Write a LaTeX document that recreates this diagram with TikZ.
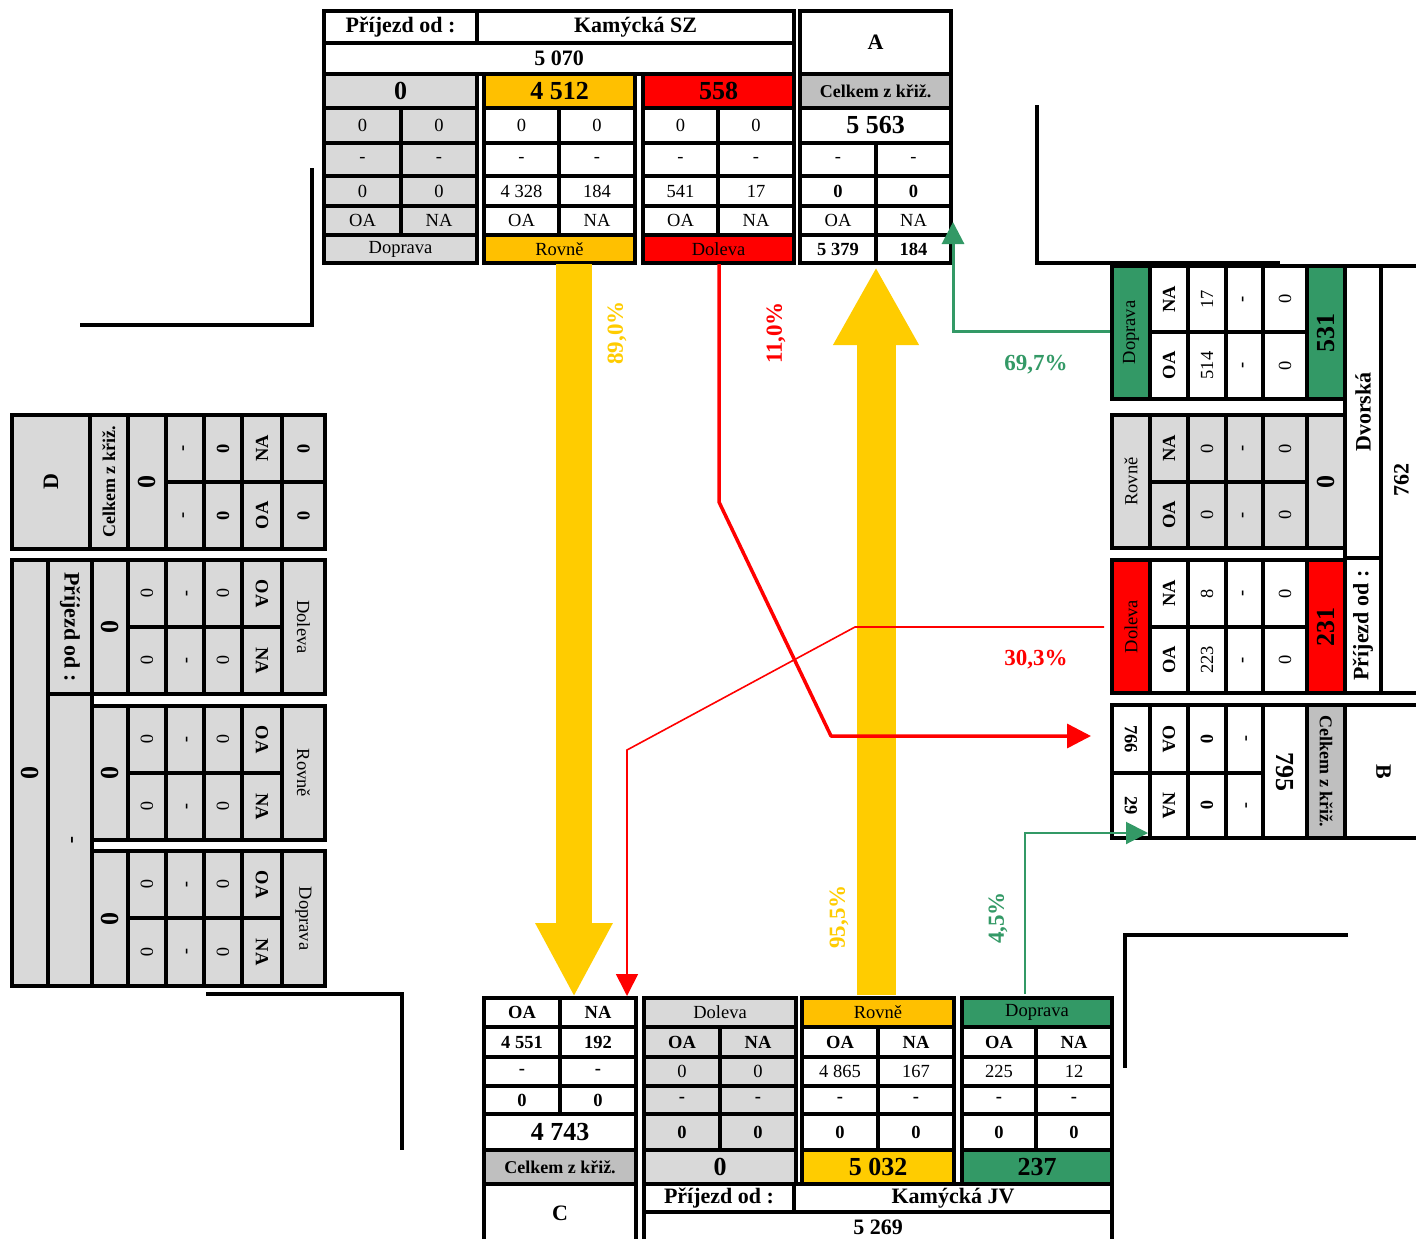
\documentclass[tikz,border=0pt]{standalone}
\usepackage{fontspec}
\setmainfont{Liberation Serif}
\usetikzlibrary{arrows.meta}

\definecolor{lgray}{HTML}{D9D9D9}
\definecolor{mgray}{HTML}{BFBFBF}
\definecolor{orng}{HTML}{FFC000}
\definecolor{ylw}{HTML}{FFCC00}
\definecolor{rd}{HTML}{FF0000}
\definecolor{grn}{HTML}{339966}

\tikzset{
  cellline/.style={draw=black, line width=3.5pt},
  val/.style={font=\fontsize{18.5}{20}\selectfont, inner sep=0pt},
  valb/.style={font=\bfseries\fontsize{18.5}{20}\selectfont, inner sep=0pt},
  big/.style={font=\bfseries\fontsize{26}{28}\selectfont, inner sep=0pt},
  head/.style={font=\bfseries\fontsize{22}{24}\selectfont, inner sep=0pt},
  tot/.style={font=\bfseries\fontsize{18}{20}\selectfont, inner sep=0pt},
  pct/.style={font=\bfseries\fontsize{23}{25}\selectfont, inner sep=0pt},
  corner/.style={line width=4pt, black},
}

% name, x1, y1, x2, y2, fill, text style, text
\newcommand{\cellbox}[8]{%
  \draw[cellline, fill=#6] (#2,#3) rectangle (#4,#5);
  \node[#7] (#1) at ({(#2+#4)/2},{(#3+#5)/2}) {#8};}

\begin{document}
\begin{tikzpicture}[x=1pt, y=-1pt]
\useasboundingbox (0,0) rectangle (1416,1239);

% road corners
\draw[corner] (80,325) -- (312,325) -- (312,168);
\draw[corner] (1037,105) -- (1037,263) -- (1280,263);
\draw[corner] (1348,935) -- (1125,935) -- (1125,1068);
\draw[corner] (206,994) -- (402,994) -- (402,1150);

% ---- Kamycka SZ ----
\cellbox{szP}{324}{11}{477}{43}{white}{head}{Příjezd od :}
\cellbox{szK}{477}{11}{794}{43}{white}{head}{Kamýcká SZ}
\cellbox{szS}{324}{43}{794}{74}{white}{head}{5 070}
\cellbox{szDt}{324}{74}{477}{108}{lgray}{big}{0}
\cellbox{szDa1}{324}{108}{401}{143}{lgray}{val}{0}
\cellbox{szDb1}{401}{108}{477}{143}{lgray}{val}{0}
\cellbox{szDa2}{324}{143}{401}{176}{lgray}{val}{-}
\cellbox{szDb2}{401}{143}{477}{176}{lgray}{val}{-}
\cellbox{szDa3}{324}{176}{401}{206}{lgray}{val}{0}
\cellbox{szDb3}{401}{176}{477}{206}{lgray}{val}{0}
\cellbox{szDa4}{324}{206}{401}{235}{lgray}{val}{OA}
\cellbox{szDb4}{401}{206}{477}{235}{lgray}{val}{NA}
\cellbox{szDl}{324}{235}{477}{263}{lgray}{val}{Doprava}
\cellbox{szRt}{484}{74}{635}{108}{orng}{big}{4 512}
\cellbox{szRa1}{484}{108}{559}{143}{white}{val}{0}
\cellbox{szRb1}{559}{108}{635}{143}{white}{val}{0}
\cellbox{szRa2}{484}{143}{559}{176}{white}{val}{-}
\cellbox{szRb2}{559}{143}{635}{176}{white}{val}{-}
\cellbox{szRa3}{484}{176}{559}{206}{white}{val}{4 328}
\cellbox{szRb3}{559}{176}{635}{206}{white}{val}{184}
\cellbox{szRa4}{484}{206}{559}{235}{white}{val}{OA}
\cellbox{szRb4}{559}{206}{635}{235}{white}{val}{NA}
\cellbox{szRl}{484}{235}{635}{263}{orng}{val}{Rovně}
\cellbox{szLt}{643}{74}{794}{108}{rd}{big}{558}
\cellbox{szLa1}{643}{108}{718}{143}{white}{val}{0}
\cellbox{szLb1}{718}{108}{794}{143}{white}{val}{0}
\cellbox{szLa2}{643}{143}{718}{176}{white}{val}{-}
\cellbox{szLb2}{718}{143}{794}{176}{white}{val}{-}
\cellbox{szLa3}{643}{176}{718}{206}{white}{val}{541}
\cellbox{szLb3}{718}{176}{794}{206}{white}{val}{17}
\cellbox{szLa4}{643}{206}{718}{235}{white}{val}{OA}
\cellbox{szLb4}{718}{206}{794}{235}{white}{val}{NA}
\cellbox{szLl}{643}{235}{794}{263}{rd}{val}{Doleva}
% A
\cellbox{aN}{800}{11}{951}{74}{white}{head}{A}
\cellbox{aC}{800}{74}{951}{108}{mgray}{tot}{Celkem z křiž.}
\cellbox{aT}{800}{108}{951}{143}{white}{big}{5 563}
\cellbox{aa2}{800}{143}{876}{176}{white}{val}{-}
\cellbox{ab2}{876}{143}{951}{176}{white}{val}{-}
\cellbox{aa3}{800}{176}{876}{206}{white}{valb}{0}
\cellbox{ab3}{876}{176}{951}{206}{white}{valb}{0}
\cellbox{aa4}{800}{206}{876}{235}{white}{val}{OA}
\cellbox{ab4}{876}{206}{951}{235}{white}{val}{NA}
\cellbox{aa5}{800}{235}{876}{263}{white}{valb}{5 379}
\cellbox{ab5}{876}{235}{951}{263}{white}{valb}{184}

% ---- Dvorska ----
\begin{scope}[every node/.append style={rotate=90}]
\cellbox{dvPl}{1112}{266}{1150}{399}{grn}{val}{Doprava}
\cellbox{dvPn0}{1150}{266}{1188}{332}{white}{valb}{NA}
\cellbox{dvPo0}{1150}{332}{1188}{399}{white}{valb}{OA}
\cellbox{dvPn1}{1188}{266}{1226}{332}{white}{val}{17}
\cellbox{dvPo1}{1188}{332}{1226}{399}{white}{val}{514}
\cellbox{dvPn2}{1226}{266}{1263}{332}{white}{valb}{-}
\cellbox{dvPo2}{1226}{332}{1263}{399}{white}{valb}{-}
\cellbox{dvPn3}{1263}{266}{1307}{332}{white}{val}{0}
\cellbox{dvPo3}{1263}{332}{1307}{399}{white}{val}{0}
\cellbox{dvPt}{1307}{266}{1345}{399}{grn}{big}{531}
\cellbox{dvRl}{1112}{415}{1150}{548}{lgray}{val}{Rovně}
\cellbox{dvRn0}{1150}{415}{1188}{482}{lgray}{valb}{NA}
\cellbox{dvRo0}{1150}{482}{1188}{548}{lgray}{valb}{OA}
\cellbox{dvRn1}{1188}{415}{1226}{482}{lgray}{val}{0}
\cellbox{dvRo1}{1188}{482}{1226}{548}{lgray}{val}{0}
\cellbox{dvRn2}{1226}{415}{1263}{482}{lgray}{valb}{-}
\cellbox{dvRo2}{1226}{482}{1263}{548}{lgray}{valb}{-}
\cellbox{dvRn3}{1263}{415}{1307}{482}{lgray}{val}{0}
\cellbox{dvRo3}{1263}{482}{1307}{548}{lgray}{val}{0}
\cellbox{dvRt}{1307}{415}{1345}{548}{lgray}{big}{0}
\cellbox{dvLl}{1112}{560}{1150}{693}{rd}{val}{Doleva}
\cellbox{dvLn0}{1150}{560}{1188}{627}{white}{valb}{NA}
\cellbox{dvLo0}{1150}{627}{1188}{693}{white}{valb}{OA}
\cellbox{dvLn1}{1188}{560}{1226}{627}{white}{val}{8}
\cellbox{dvLo1}{1188}{627}{1226}{693}{white}{val}{223}
\cellbox{dvLn2}{1226}{560}{1263}{627}{white}{valb}{-}
\cellbox{dvLo2}{1226}{627}{1263}{693}{white}{valb}{-}
\cellbox{dvLn3}{1263}{560}{1307}{627}{white}{val}{0}
\cellbox{dvLo3}{1263}{627}{1307}{693}{white}{val}{0}
\cellbox{dvLt}{1307}{560}{1345}{693}{rd}{big}{231}
\cellbox{dvK}{1345}{266}{1381}{558}{white}{head}{Dvorská}
\cellbox{dvP}{1345}{558}{1381}{693}{white}{head}{Příjezd od :}
\cellbox{dvS}{1381}{266}{1422}{693}{white}{head}{762}
\end{scope}

% B
\begin{scope}[every node/.append style={rotate=-90}]
\cellbox{ba0}{1112}{705}{1150}{773}{white}{valb}{766}
\cellbox{bb0}{1112}{773}{1150}{838}{white}{valb}{29}
\cellbox{ba1}{1150}{705}{1188}{773}{white}{valb}{OA}
\cellbox{bb1}{1150}{773}{1188}{838}{white}{valb}{NA}
\cellbox{ba2}{1188}{705}{1226}{773}{white}{valb}{0}
\cellbox{bb2}{1188}{773}{1226}{838}{white}{valb}{0}
\cellbox{ba3}{1226}{705}{1263}{773}{white}{valb}{-}
\cellbox{bb3}{1226}{773}{1263}{838}{white}{valb}{-}
\cellbox{bT}{1263}{705}{1307}{838}{white}{big}{795}
\cellbox{bC}{1307}{705}{1345}{838}{mgray}{tot}{Celkem z křiž.}
\cellbox{bN}{1345}{705}{1422}{838}{white}{head}{B}
\end{scope}

% D
\begin{scope}[every node/.append style={rotate=90}]
\cellbox{dN}{12}{415}{90}{549}{lgray}{head}{D}
\cellbox{dC}{90}{415}{128}{549}{lgray}{tot}{Celkem z křiž.}
\cellbox{dT}{128}{415}{166}{549}{lgray}{big}{0}
\cellbox{dn1}{166}{415}{204}{482}{lgray}{valb}{-}
\cellbox{do1}{166}{482}{204}{549}{lgray}{valb}{-}
\cellbox{dn2}{204}{415}{242}{482}{lgray}{valb}{0}
\cellbox{do2}{204}{482}{242}{549}{lgray}{valb}{0}
\cellbox{dn3}{242}{415}{282}{482}{lgray}{valb}{NA}
\cellbox{do3}{242}{482}{282}{549}{lgray}{valb}{OA}
\cellbox{dn4}{282}{415}{325}{482}{lgray}{valb}{0}
\cellbox{do4}{282}{482}{325}{549}{lgray}{valb}{0}
\end{scope}

% ---- prijezd od - ----
\begin{scope}[every node/.append style={rotate=-90}]
\cellbox{xS}{12}{560}{48}{986}{lgray}{big}{0}
\cellbox{xP}{48}{560}{92}{694}{lgray}{head}{Příjezd od :}
\cellbox{xK}{48}{694}{92}{986}{lgray}{head}{-}
\cellbox{xLt}{92}{560}{128}{694}{lgray}{big}{0}
\cellbox{xLo1}{128}{560}{166}{627}{lgray}{val}{0}
\cellbox{xLn1}{128}{627}{166}{694}{lgray}{val}{0}
\cellbox{xLo2}{166}{560}{204}{627}{lgray}{valb}{-}
\cellbox{xLn2}{166}{627}{204}{694}{lgray}{valb}{-}
\cellbox{xLo3}{204}{560}{242}{627}{lgray}{val}{0}
\cellbox{xLn3}{204}{627}{242}{694}{lgray}{val}{0}
\cellbox{xLo4}{242}{560}{282}{627}{lgray}{valb}{OA}
\cellbox{xLn4}{242}{627}{282}{694}{lgray}{valb}{NA}
\cellbox{xLl}{282}{560}{325}{694}{lgray}{val}{Doleva}
\cellbox{xRt}{92}{706}{128}{840}{lgray}{big}{0}
\cellbox{xRo1}{128}{706}{166}{773}{lgray}{val}{0}
\cellbox{xRn1}{128}{773}{166}{840}{lgray}{val}{0}
\cellbox{xRo2}{166}{706}{204}{773}{lgray}{valb}{-}
\cellbox{xRn2}{166}{773}{204}{840}{lgray}{valb}{-}
\cellbox{xRo3}{204}{706}{242}{773}{lgray}{val}{0}
\cellbox{xRn3}{204}{773}{242}{840}{lgray}{val}{0}
\cellbox{xRo4}{242}{706}{282}{773}{lgray}{valb}{OA}
\cellbox{xRn4}{242}{773}{282}{840}{lgray}{valb}{NA}
\cellbox{xRl}{282}{706}{325}{840}{lgray}{val}{Rovně}
\cellbox{xDt}{92}{851}{128}{986}{lgray}{big}{0}
\cellbox{xDo1}{128}{851}{166}{918}{lgray}{val}{0}
\cellbox{xDn1}{128}{918}{166}{986}{lgray}{val}{0}
\cellbox{xDo2}{166}{851}{204}{918}{lgray}{valb}{-}
\cellbox{xDn2}{166}{918}{204}{986}{lgray}{valb}{-}
\cellbox{xDo3}{204}{851}{242}{918}{lgray}{val}{0}
\cellbox{xDn3}{204}{918}{242}{986}{lgray}{val}{0}
\cellbox{xDo4}{242}{851}{282}{918}{lgray}{valb}{OA}
\cellbox{xDn4}{242}{918}{282}{986}{lgray}{valb}{NA}
\cellbox{xDl}{282}{851}{325}{986}{lgray}{val}{Doprava}
\end{scope}

% ---- C ----
\cellbox{ca1}{484}{998}{560}{1027}{white}{valb}{OA}
\cellbox{cb1}{560}{998}{636}{1027}{white}{valb}{NA}
\cellbox{ca2}{484}{1027}{560}{1057}{white}{valb}{4 551}
\cellbox{cb2}{560}{1027}{636}{1057}{white}{valb}{192}
\cellbox{ca3}{484}{1057}{560}{1086}{white}{valb}{-}
\cellbox{cb3}{560}{1057}{636}{1086}{white}{valb}{-}
\cellbox{ca4}{484}{1086}{560}{1114}{white}{valb}{0}
\cellbox{cb4}{560}{1086}{636}{1114}{white}{valb}{0}
\cellbox{cT}{484}{1114}{636}{1150}{white}{big}{4 743}
\cellbox{cC}{484}{1150}{636}{1184}{mgray}{tot}{Celkem z křiž.}
\cellbox{cN}{484}{1184}{636}{1242}{white}{head}{C}

% ---- Kamycka JV ----
\cellbox{jvLl}{644}{998}{796}{1027}{lgray}{val}{Doleva}
\cellbox{jvLa1}{644}{1027}{720}{1057}{lgray}{valb}{OA}
\cellbox{jvLb1}{720}{1027}{796}{1057}{lgray}{valb}{NA}
\cellbox{jvLa2}{644}{1057}{720}{1086}{lgray}{val}{0}
\cellbox{jvLb2}{720}{1057}{796}{1086}{lgray}{val}{0}
\cellbox{jvLa3}{644}{1086}{720}{1114}{lgray}{valb}{-}
\cellbox{jvLb3}{720}{1086}{796}{1114}{lgray}{valb}{-}
\cellbox{jvLa4}{644}{1114}{720}{1150}{lgray}{valb}{0}
\cellbox{jvLb4}{720}{1114}{796}{1150}{lgray}{valb}{0}
\cellbox{jvLt}{644}{1150}{796}{1184}{lgray}{big}{0}
\cellbox{jvRl}{802}{998}{954}{1027}{orng}{val}{Rovně}
\cellbox{jvRa1}{802}{1027}{878}{1057}{white}{valb}{OA}
\cellbox{jvRb1}{878}{1027}{954}{1057}{white}{valb}{NA}
\cellbox{jvRa2}{802}{1057}{878}{1086}{white}{val}{4 865}
\cellbox{jvRb2}{878}{1057}{954}{1086}{white}{val}{167}
\cellbox{jvRa3}{802}{1086}{878}{1114}{white}{valb}{-}
\cellbox{jvRb3}{878}{1086}{954}{1114}{white}{valb}{-}
\cellbox{jvRa4}{802}{1114}{878}{1150}{white}{valb}{0}
\cellbox{jvRb4}{878}{1114}{954}{1150}{white}{valb}{0}
\cellbox{jvRt}{802}{1150}{954}{1184}{ylw}{big}{5 032}
\cellbox{jvPl}{962}{998}{1112}{1027}{grn}{val}{Doprava}
\cellbox{jvPa1}{962}{1027}{1036}{1057}{white}{valb}{OA}
\cellbox{jvPb1}{1036}{1027}{1112}{1057}{white}{valb}{NA}
\cellbox{jvPa2}{962}{1057}{1036}{1086}{white}{val}{225}
\cellbox{jvPb2}{1036}{1057}{1112}{1086}{white}{val}{12}
\cellbox{jvPa3}{962}{1086}{1036}{1114}{white}{valb}{-}
\cellbox{jvPb3}{1036}{1086}{1112}{1114}{white}{valb}{-}
\cellbox{jvPa4}{962}{1114}{1036}{1150}{white}{valb}{0}
\cellbox{jvPb4}{1036}{1114}{1112}{1150}{white}{valb}{0}
\cellbox{jvPt}{962}{1150}{1112}{1184}{grn}{big}{237}
\cellbox{jvP}{644}{1184}{794}{1212}{white}{head}{Příjezd od :}
\cellbox{jvK}{794}{1184}{1112}{1212}{white}{head}{Kamýcká JV}
\cellbox{jvS}{644}{1212}{1112}{1242}{white}{head}{5 269}

% ---- flows ----
\coordinate (ydnA) at (574,264);
\coordinate (ydnB) at (574,997);
\coordinate (yupA) at (876,995);
\coordinate (yupB) at (876,267);
\draw[ylw, line width=36pt, -{Triangle[length=74pt,width=72pt]}] (ydnA) -- (ydnB);
\draw[ylw, line width=39pt, -{Triangle[length=78pt,width=80pt]}] (yupA) -- (yupB);

\coordinate (rlA) at (719,264);
\coordinate (rlB) at (1091,736);
\draw[rd, line width=3.5pt, line join=round, -{Triangle[length=24pt,width=24pt]}] (rlA) -- (719,502) -- (831,736) -- (rlB);
\coordinate (rrA) at (1104,627);
\coordinate (rrB) at (627,996);
\draw[rd, line width=1.6pt, -{Triangle[length=22pt,width=22pt]}] (rrA) -- (855,627) -- (627,750) -- (rrB);

\coordinate (gaA) at (1110,331);
\coordinate (gaB) at (953,222);
\draw[grn, line width=3pt, -{Triangle[length=22pt,width=22pt]}] (gaA) -| (gaB);
\coordinate (gbA) at (1025,994);
\coordinate (gbB) at (1148,833);
\draw[grn, line width=2pt, -{Triangle[length=22pt,width=22pt]}] (gbA) |- (gbB);

% ---- shares ----
\node[pct, ylw, rotate=90] (p89) at (617,333) {89,0\%};
\node[pct, rd, rotate=90] (p11) at (776,333) {11,0\%};
\node[pct, ylw, rotate=90] (p95) at (839,917) {95,5\%};
\node[pct, grn, rotate=90] (p45) at (998,918) {4,5\%};
\node[pct, grn] (p69) at (1036,365) {69,7\%};
\node[pct, rd] (p30) at (1036,660) {30,3\%};
\end{tikzpicture}
\end{document}
